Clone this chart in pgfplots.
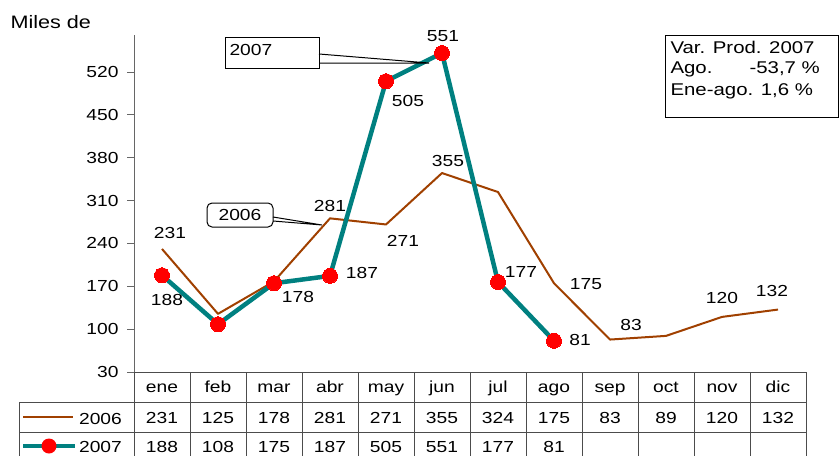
\documentclass[border=0pt]{standalone}
\usepackage{fontspec}
\setmainfont{Liberation Sans}[FakeStretch=1.2]
\usepackage{pgfplots}
\pgfplotsset{compat=1.18}
\definecolor{c06}{RGB}{160,64,0}
\definecolor{c07}{RGB}{0,128,128}
\begin{document}
\begin{tikzpicture}[font=\fontsize{16}{19}\selectfont]
\path[use as bounding box] (0pt,0pt) rectangle (840pt,-455pt);
\begin{axis}[at={(134pt,-372pt)}, anchor=south west, scale only axis,
  width=672pt, height=336.7pt, xmin=-0.5, xmax=11.5, ymin=30, ymax=580,
  axis x line=none, axis y line*=left,
  ytick={30,100,...,520}, tick align=outside, major tick length=7pt,
  y axis line style={black!60, line width=1pt},
  ytick style={black!60, line width=1pt},
  yticklabel style={font=\fontsize{16}{19}\selectfont, xshift=-5pt},
  /pgf/number format/assume math mode=true, clip=false]
\addplot[c06, line width=2pt, mark=none, line join=round] coordinates {
 (0,231) (1,125) (2,178) (3,281) (4,271) (5,355) (6,324) (7,175) (8,83) (9,89) (10,120) (11,132)};
\addplot[c07, line width=4.5pt, line join=round, mark=*, mark size=7.5pt,
  mark options={fill=red, draw=red, line width=0pt}] coordinates {
 (0,188) (1,108) (2,175) (3,187) (4,505) (5,551) (6,177) (7,81)};
\end{axis}
\begin{scope}[x=1pt,y=-1pt]
% data labels
\node at (170,233) {231};
\node at (330,206) {281};
\node at (403,241) {271};
\node at (448,161) {355};
\node at (586,284) {175};
\node at (631,325) {83};
\node at (722,298) {120};
\node at (772,291) {132};
\node at (167,300) {188};
\node at (298,297) {178};
\node at (362,273) {187};
\node at (408,101) {505};
\node at (443,36) {551};
\node at (521,272) {177};
\node at (580,340) {81};
% y label
\node[anchor=west, font=\fontsize{18}{21}\selectfont] at (7,22) {Miles de};
% callouts
\draw[line width=1pt, fill=white] (225,37) rectangle (319,68);
\node[anchor=west] at (226,50) {2007};
\draw[line width=1pt] (319,54) -- (429,63) -- (319,63);
\draw[line width=1pt, rounded corners=5pt, fill=white] (207,203) rectangle (273,227);
\node at (240,215) {2006};
\draw[line width=1pt] (273,217) -- (322,225) -- (273,221);
% stats box
\draw[line width=1pt] (665,35) rectangle (838,117);
\node[anchor=west, font=\fontsize{17}{20}\selectfont] at (667,47) {Var. Prod. 2007};
\node[anchor=west, font=\fontsize{17}{20}\selectfont] at (667,69) {Ago.};
\node[anchor=west, font=\fontsize{17}{20}\selectfont] at (746,69) {-53,7 \%};
\node[anchor=west, font=\fontsize{17}{20}\selectfont] at (667,91) {Ene-ago. 1,6 \%};
% table
\draw[black!70, line width=1pt] (134,372) -- (806,372);
\draw[black!70, line width=1pt] (19,402) -- (806,402);
\draw[black!70, line width=1pt] (19,432) -- (806,432);
\draw[black!70, line width=1pt] (19,462) -- (806,462);
\draw[black!70, line width=1pt] (19,402) -- (19,462);
\foreach \k in {0,...,12} {\draw[black!70, line width=1pt] ({134+56*\k},372) -- ({134+56*\k},462);}
\foreach \m [count=\i from 0] in {ene,feb,mar,abr,may,jun,jul,ago,sep,oct,nov,dic}
  {\node[anchor=base, inner sep=0pt] at ({162+56*\i},392) {\m};}
\foreach \v [count=\i from 0] in {231,125,178,281,271,355,324,175,83,89,120,132}
  {\node[anchor=base, inner sep=0pt] at ({162+56*\i},423) {\v};}
\foreach \v [count=\i from 0] in {188,108,175,187,505,551,177,81}
  {\node[anchor=base, inner sep=0pt] at ({162+56*\i},452) {\v};}
\draw[c06, line width=2pt] (23,417) -- (73,417);
\node[anchor=base east, inner sep=0pt] at (122,424) {2006};
\draw[c07, line width=4.5pt] (23,446) -- (75,446);
\fill[red] (49,446) circle (7.5);
\node[anchor=base east, inner sep=0pt] at (122,452) {2007};
\end{scope}
\end{tikzpicture}
\end{document}
